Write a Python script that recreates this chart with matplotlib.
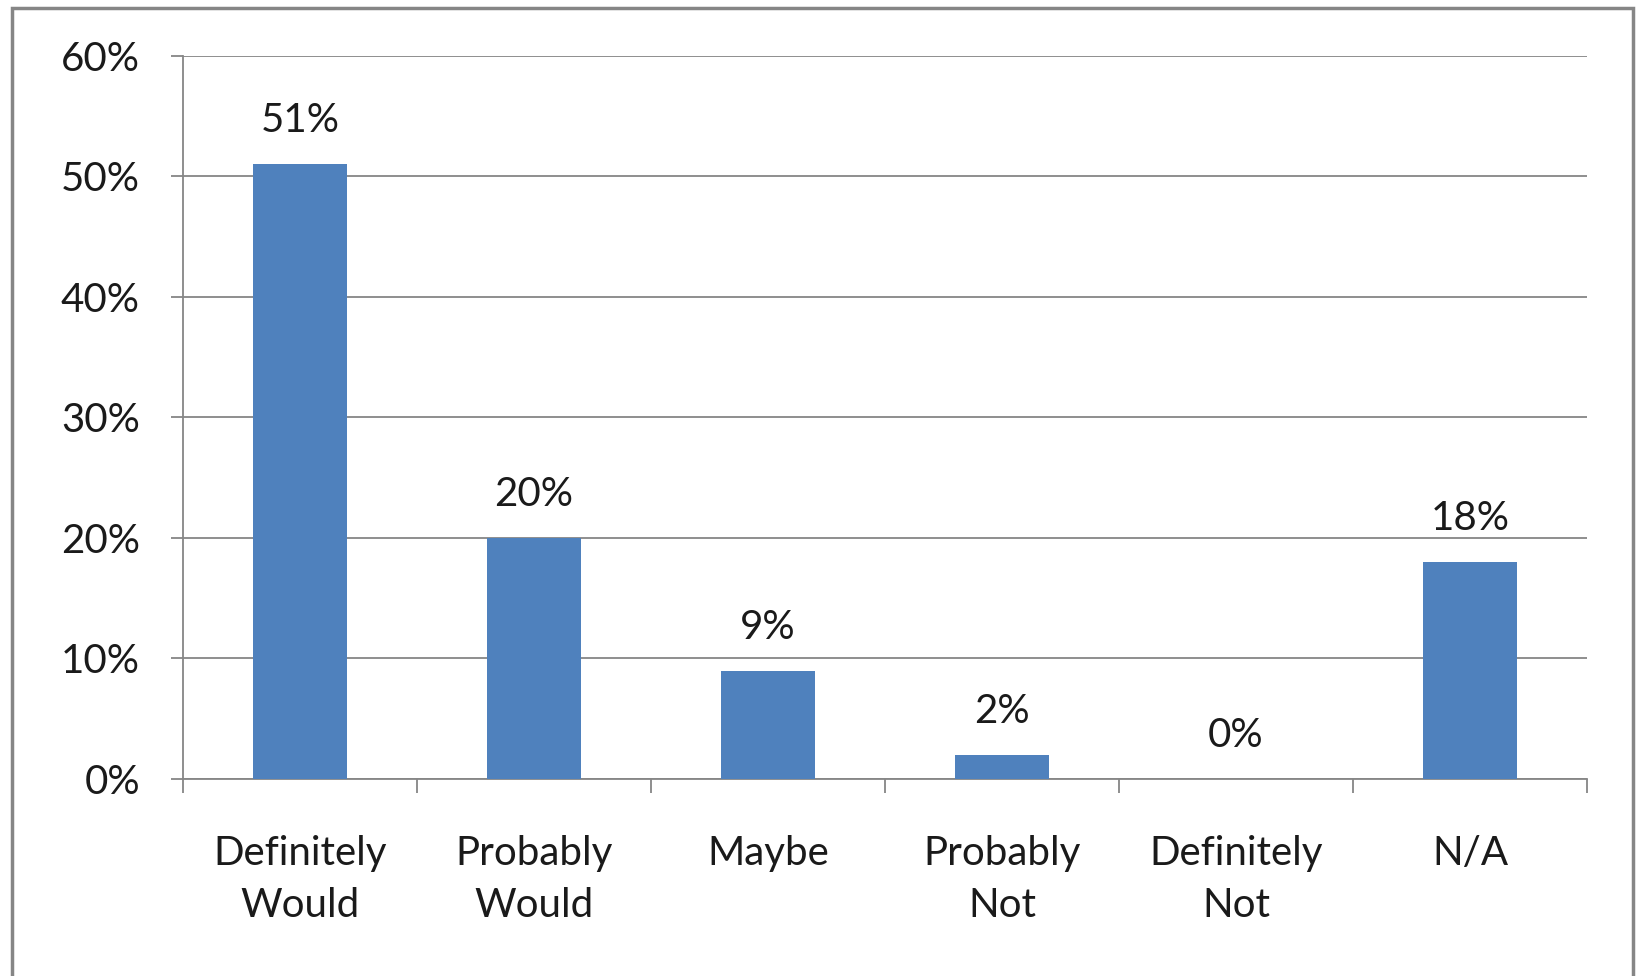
import matplotlib.pyplot as plt
import numpy as np
from matplotlib.patches import Rectangle

categories = ["Definitely\nWould", "Probably\nWould", "Maybe", "Probably\nNot", "Definitely\nNot", "N/A"]
values = [51, 20, 9, 2, 0, 18]
y_ticks = [0, 10, 20, 30, 40, 50, 60]

plt.rcParams["font.family"] = ["Lato", "DejaVu Sans"]

fig = plt.figure(figsize=(16.4, 9.76), dpi=100)
ax = fig.add_axes([0.1116, 0.2018, 0.8561, 0.7412])

# outer chart border
fig.patches.append(Rectangle((0.0073, -0.05), 0.9884, 1.042, transform=fig.transFigure,
                             fill=False, edgecolor="#868686", linewidth=2.5))

x = np.arange(len(categories))
bars = ax.bar(x, values, width=0.40, color="#4F81BD", zorder=3)
for xi, v in zip(x, values):
    ax.annotate(f"{v}%", (xi, v), xytext=(0, 18), textcoords="offset points",
                ha="center", va="bottom", fontsize=29, color="#1a1a1a")

ax.set_xlim(-0.5, len(categories) - 0.5)
ax.set_ylim(0, 60)
ax.set_yticks(y_ticks)
ax.set_yticklabels([f"{t}%" for t in y_ticks], fontsize=29, color="#1a1a1a")
ax.yaxis.grid(True, color="#868686", linewidth=1.3, zorder=0)

ax.set_xticks(x)
ax.set_xticklabels(categories, fontsize=29, color="#1a1a1a", linespacing=1.5)
ax.set_xticks(np.arange(-0.5, len(categories)), minor=True)
ax.tick_params(axis="x", which="major", length=0, pad=40)
ax.tick_params(axis="x", which="minor", length=10, width=1.3, color="#868686")
ax.tick_params(axis="y", length=9, width=1.3, color="#868686", pad=22)

for side in ["top", "right"]:
    ax.spines[side].set_visible(False)
for side in ["left", "bottom"]:
    ax.spines[side].set_color("#868686")
    ax.spines[side].set_linewidth(1.3)

fig.savefig("out.png", dpi=100)
